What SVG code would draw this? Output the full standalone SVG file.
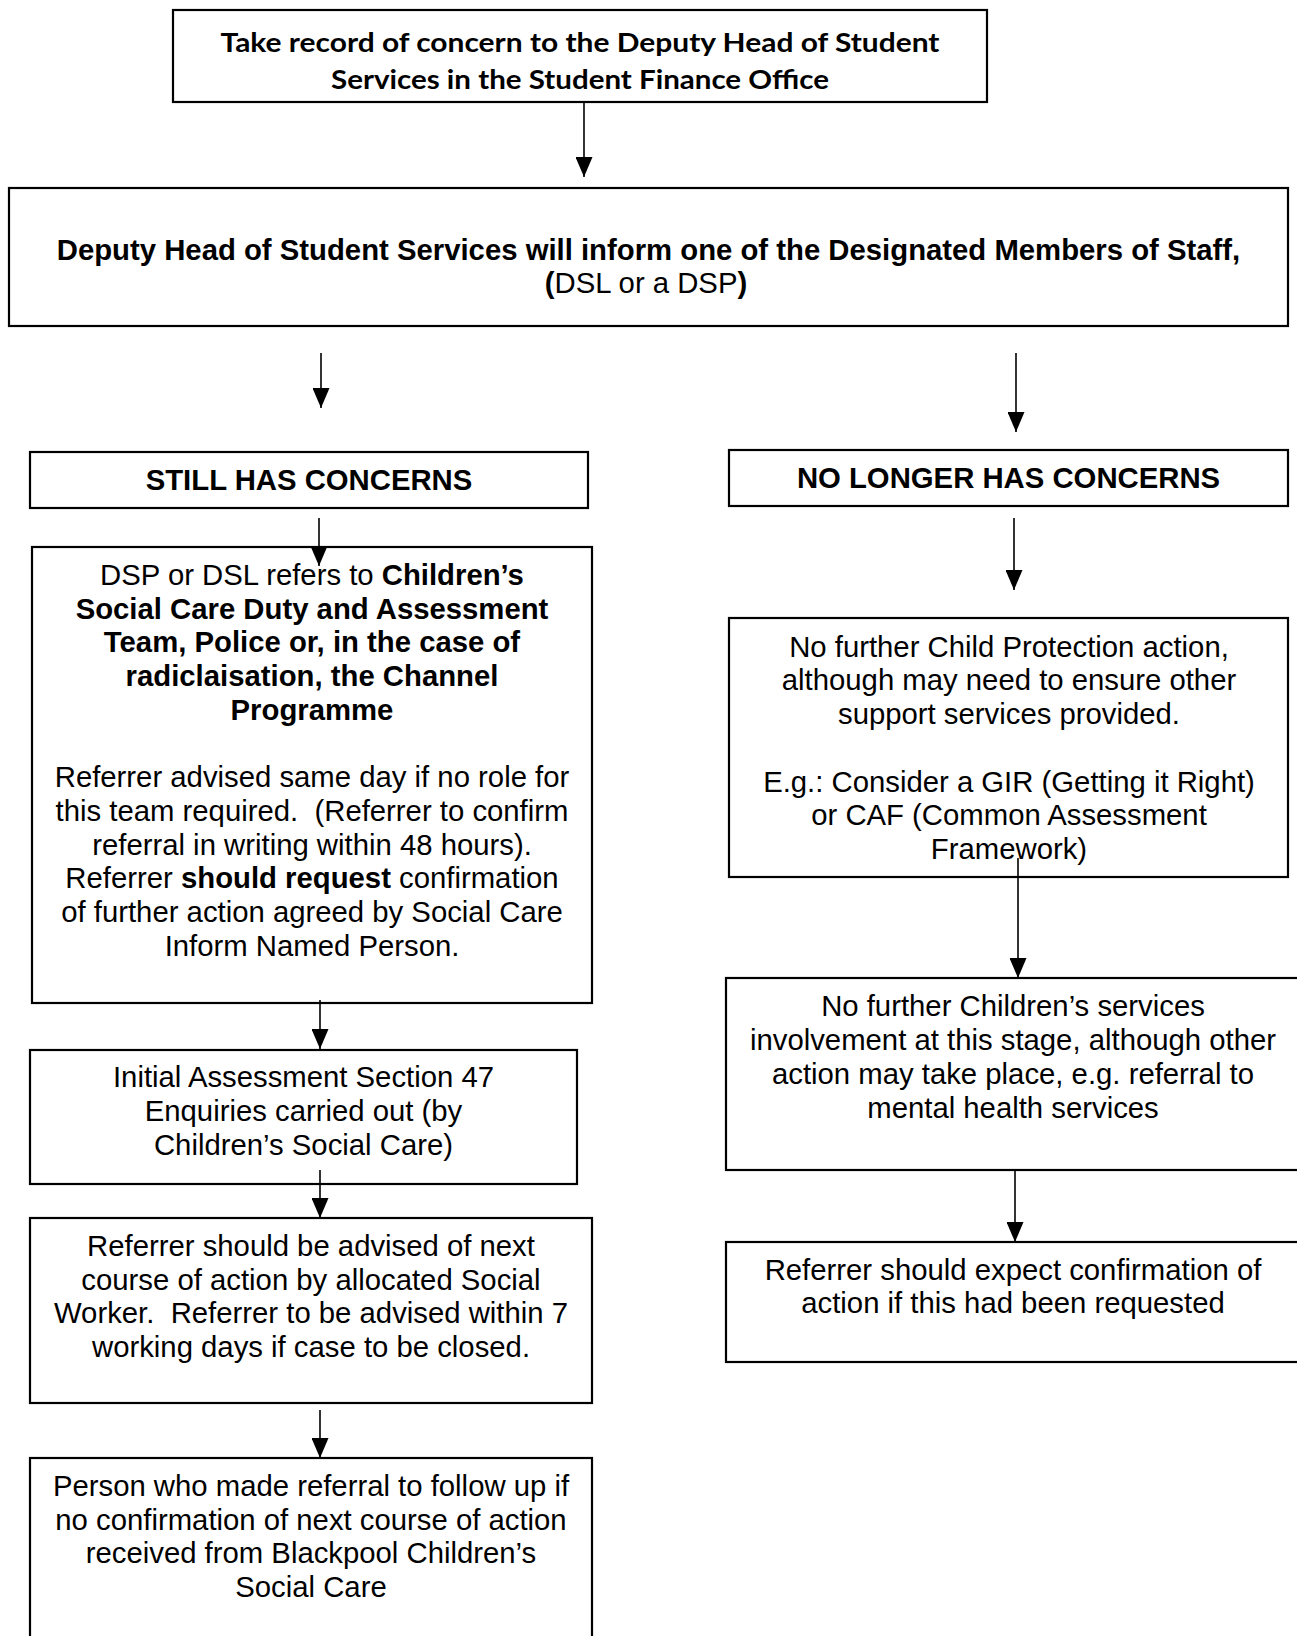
<svg xmlns="http://www.w3.org/2000/svg" width="1297" height="1636" viewBox="0 0 1297 1636">
<style>
.box{fill:#fff;stroke:#000;stroke-width:2.2}
.t{font-family:"Liberation Sans",Arial,sans-serif;font-size:29.3px;fill:#000;text-anchor:middle;white-space:pre}
.b{font-weight:bold}
.cal{font-family:Lato,"Liberation Sans",sans-serif;font-weight:700;font-size:27px;fill:#000;text-anchor:middle}
.c{stroke:#000;stroke-width:1.6;fill:none;marker-end:url(#ah)}
</style>
<defs>
<marker id="ah" viewBox="0 0 20 17" refX="20" refY="8.5" markerWidth="20" markerHeight="17" markerUnits="userSpaceOnUse" orient="auto">
<path d="M0,0 L20,8.5 L0,17 z" fill="#000"/>
</marker>
</defs>
<rect width="1297" height="1636" fill="#fff"/>
<g id="n1">
<rect class="box" x="173" y="10" width="814" height="92"/>
<text class="cal" x="580" y="52" textLength="719" lengthAdjust="spacingAndGlyphs">Take record of concern to the Deputy Head of Student</text>
<text class="cal" x="580" y="89" textLength="498" lengthAdjust="spacingAndGlyphs">Services in the Student Finance Office</text>
</g>
<g id="n2">
<rect class="box" x="9" y="188" width="1279" height="138"/>
<text class="t b" x="648.5" y="260">Deputy Head of Student Services will inform one of the Designated Members of Staff,</text>
<text class="t" x="646" y="293"><tspan class="b">(</tspan>DSL or a DSP<tspan class="b">)</tspan></text>
</g>
<g id="n3">
<rect class="box" x="30" y="452" width="558" height="56"/>
<text class="t b" x="309" y="490">STILL HAS CONCERNS</text>
</g>
<g id="n4">
<rect class="box" x="729" y="450" width="559" height="56"/>
<text class="t b" x="1008.5" y="488">NO LONGER HAS CONCERNS</text>
</g>
<g id="n5">
<rect class="box" x="32" y="547" width="560" height="456"/>
<text class="t" x="312" y="585">DSP or DSL refers to <tspan class="b">Children’s</tspan></text>
<text class="t b" x="312" y="619">Social Care Duty and Assessment</text>
<text class="t b" x="312" y="652">Team, Police or, in the case of</text>
<text class="t b" x="312" y="686">radiclaisation, the Channel</text>
<text class="t b" x="312" y="720">Programme</text>
<text class="t" x="312" y="787">Referrer advised same day if no role for</text>
<text class="t" x="312" y="821">this team required.  (Referrer to confirm</text>
<text class="t" x="312" y="855">referral in writing within 48 hours).</text>
<text class="t" x="312" y="888">Referrer <tspan class="b">should request</tspan> confirmation</text>
<text class="t" x="312" y="922">of further action agreed by Social Care</text>
<text class="t" x="312" y="956">Inform Named Person.</text>
</g>
<g id="n6">
<rect class="box" x="729" y="618" width="559" height="259"/>
<text class="t" x="1009" y="657">No further Child Protection action,</text>
<text class="t" x="1009" y="690">although may need to ensure other</text>
<text class="t" x="1009" y="724">support services provided.</text>
<text class="t" x="1009" y="792">E.g.: Consider a GIR (Getting it Right)</text>
<text class="t" x="1009" y="825">or CAF (Common Assessment</text>
<text class="t" x="1009" y="859">Framework)</text>
</g>
<g id="n7">
<rect class="box" x="30" y="1050" width="547" height="134"/>
<text class="t" x="303.5" y="1087">Initial Assessment Section 47</text>
<text class="t" x="303.5" y="1121">Enquiries carried out (by</text>
<text class="t" x="303.5" y="1155">Children’s Social Care)</text>
</g>
<g id="n8">
<rect class="box" x="30" y="1218" width="562" height="185"/>
<text class="t" x="311" y="1256">Referrer should be advised of next</text>
<text class="t" x="311" y="1290">course of action by allocated Social</text>
<text class="t" x="311" y="1323">Worker.  Referrer to be advised within 7</text>
<text class="t" x="311" y="1357">working days if case to be closed.</text>
</g>
<g id="n9">
<rect class="box" x="30" y="1458" width="562" height="190"/>
<text class="t" x="311" y="1496">Person who made referral to follow up if</text>
<text class="t" x="311" y="1530">no confirmation of next course of action</text>
<text class="t" x="311" y="1563">received from Blackpool Children’s</text>
<text class="t" x="311" y="1597">Social Care</text>
</g>
<g id="n10">
<rect class="box" x="726" y="978" width="576" height="192"/>
<text class="t" x="1013" y="1016">No further Children’s services</text>
<text class="t" x="1013" y="1050">involvement at this stage, although other</text>
<text class="t" x="1013" y="1084">action may take place, e.g. referral to</text>
<text class="t" x="1013" y="1118">mental health services</text>
</g>
<g id="n11">
<rect class="box" x="726" y="1242" width="576" height="120"/>
<text class="t" x="1013" y="1280">Referrer should expect confirmation of</text>
<text class="t" x="1013" y="1313">action if this had been requested</text>
</g>
<g id="connectors">
<line class="c" x1="584" y1="103" x2="584" y2="177"/>
<line class="c" x1="321" y1="353" x2="321" y2="408"/>
<line class="c" x1="1016" y1="353" x2="1016" y2="432"/>
<line class="c" x1="319" y1="518" x2="319" y2="566"/>
<line class="c" x1="1014" y1="518" x2="1014" y2="590"/>
<line class="c" x1="1018" y1="858" x2="1018" y2="978"/>
<line class="c" x1="320" y1="1000" x2="320" y2="1049"/>
<line class="c" x1="320" y1="1170" x2="320" y2="1218"/>
<line class="c" x1="1015" y1="1170" x2="1015" y2="1242"/>
<line class="c" x1="320" y1="1410" x2="320" y2="1458"/>
</g>
</svg>
